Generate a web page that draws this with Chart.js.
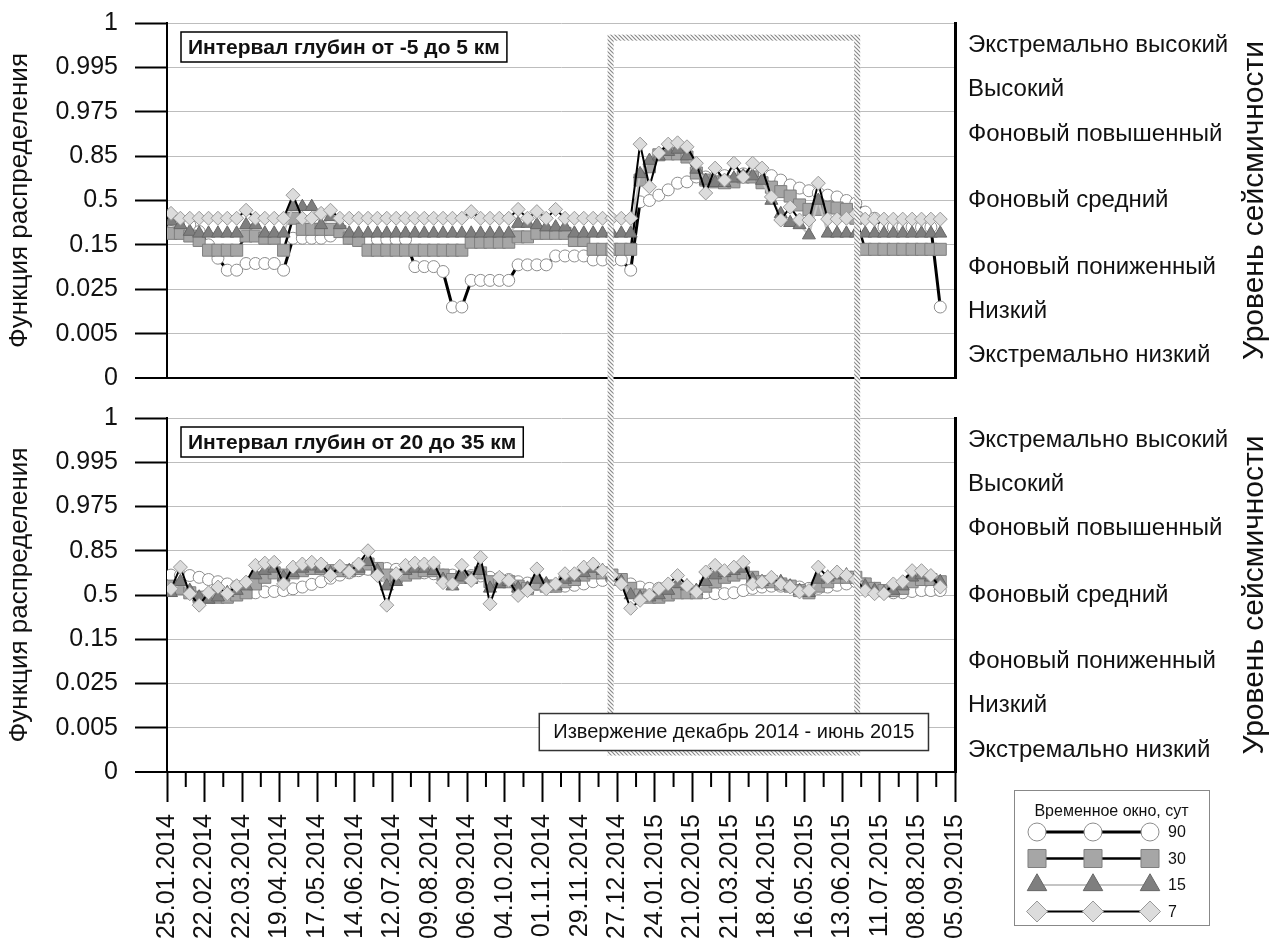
<!DOCTYPE html>
<html lang="ru">
<head>
<meta charset="UTF-8">
<meta name="viewport" content="width=device-width, initial-scale=1.0">
<title>Функция распределения по интервалам глубин</title>
<script src="https://cdn.jsdelivr.net/npm/chart.js"></script>
<style>
  body { margin: 0; background: #fff; }
  #page { position: relative; width: 1272px; height: 947px; }
  .panel { position: absolute; left: 0; width: 1272px; }
  #panel-top { top: 0; height: 396px; }
  #panel-bottom { top: 396px; height: 551px; }
</style>
</head>
<body>
<div id="page">
  <div class="panel" id="panel-top"><canvas id="chart-top"></canvas></div>
  <div class="panel" id="panel-bottom"><canvas id="chart-bottom"></canvas></div>
</div>
<script>
// ---- data ----
// y values are given in axis level units: 0 -> "0", 1 -> "0.005", ... 8 -> "1"
const probLabels = ['0', '0.005', '0.025', '0.15', '0.5', '0.85', '0.975', '0.995', '1'];
const levelNames = ['Экстремально низкий', 'Низкий', 'Фоновый пониженный', 'Фоновый средний',
                    'Фоновый повышенный', 'Высокий', 'Экстремально высокий'];
const levelPos = [0.5, 1.5, 2.5, 4, 5.5, 6.5, 7.5];
const windowLabels = ['90', '30', '15', '7'];

const axisStart = '25.01.2014';
const axisEnd = '05.09.2015';
const firstSample = '28.01.2014';          // weekly samples
const eruptionStart = '22.12.2014';
const eruptionEnd = '24.06.2015';
const eruptionText = 'Извержение декабрь 2014 - июнь 2015';

// depth -5 .. 5 km
const top90 = [3.3, 3.35, 3.45, 3.3, 3.0, 2.7, 2.43, 2.43, 2.58, 2.58,
  2.58, 2.58, 2.43, 3.15, 3.15, 3.15, 3.15, 3.2, 3.3, 3.15,
  3.1, 3.12, 3.12, 3.12, 3.12, 3.12, 2.51, 2.51, 2.51, 2.4,
  1.6, 1.6, 2.2, 2.2, 2.2, 2.2, 2.2, 2.55, 2.55, 2.55,
  2.55, 2.75, 2.75, 2.75, 2.75, 2.66, 2.66, 2.66, 2.66, 2.43,
  3.97, 4.0, 4.12, 4.24, 4.39, 4.42, 4.53, 4.53, 4.53, 4.56,
  4.6, 4.6, 4.6, 4.6, 4.56, 4.46, 4.35, 4.28, 4.22, 4.17,
  4.12, 4.08, 4.0, 3.94, 3.74, 3.6, 3.4, 3.4, 3.4, 3.4,
  3.4, 3.4, 1.6];
const top30 = [3.26, 3.26, 3.2, 3.1, 2.88, 2.88, 2.88, 2.88, 3.2, 3.2,
  3.15, 3.15, 2.88, 3.6, 3.35, 3.35, 3.35, 3.35, 3.3, 3.15,
  3.1, 2.88, 2.88, 2.88, 2.88, 2.88, 2.88, 2.88, 2.88, 2.88,
  2.88, 2.88, 3.06, 3.06, 3.06, 3.06, 3.06, 3.18, 3.18, 3.26,
  3.26, 3.26, 3.26, 3.1, 3.1, 2.9, 2.9, 2.9, 2.9, 2.9,
  4.46, 4.76, 5.03, 5.05, 5.05, 4.98, 4.62, 4.46, 4.42, 4.4,
  4.42, 4.53, 4.53, 4.4, 4.3, 4.2, 4.1, 3.9, 3.8, 3.8,
  3.85, 3.83, 3.8, 3.6, 2.9, 2.9, 2.9, 2.9, 2.9, 2.9,
  2.9, 2.9, 2.9];
const top15 = [3.53, 3.45, 3.3, 3.26, 3.26, 3.26, 3.26, 3.26, 3.45, 3.45,
  3.26, 3.26, 3.26, 3.86, 3.86, 3.86, 3.45, 3.63, 3.45, 3.26,
  3.26, 3.26, 3.26, 3.26, 3.26, 3.26, 3.26, 3.26, 3.26, 3.26,
  3.26, 3.26, 3.26, 3.26, 3.26, 3.26, 3.26, 3.48, 3.48, 3.45,
  3.4, 3.4, 3.4, 3.26, 3.26, 3.26, 3.26, 3.26, 3.26, 3.26,
  4.6, 4.9, 5.0, 5.1, 5.15, 5.0, 4.7, 4.45, 4.4, 4.4,
  4.5, 4.55, 4.55, 4.45, 4.0, 3.7, 3.5, 3.45, 3.22, 4.0,
  3.26, 3.26, 3.26, 3.26, 3.26, 3.26, 3.26, 3.26, 3.26, 3.26,
  3.26, 3.26, 3.26];
const top7 = [3.71, 3.6, 3.6, 3.6, 3.6, 3.6, 3.6, 3.6, 3.78, 3.6,
  3.6, 3.6, 3.6, 4.12, 3.6, 3.6, 3.71, 3.78, 3.6, 3.6,
  3.6, 3.6, 3.6, 3.6, 3.6, 3.6, 3.6, 3.6, 3.6, 3.6,
  3.6, 3.6, 3.75, 3.6, 3.6, 3.6, 3.6, 3.8, 3.6, 3.75,
  3.6, 3.8, 3.6, 3.6, 3.6, 3.6, 3.6, 3.6, 3.6, 3.6,
  5.27, 4.31, 5.07, 5.27, 5.3, 5.21, 4.84, 4.17, 4.73, 4.46,
  4.84, 4.53, 4.84, 4.73, 4.08, 3.56, 3.85, 3.56, 3.56, 4.39,
  3.58, 3.58, 3.6, 3.7, 3.58, 3.58, 3.58, 3.58, 3.58, 3.58,
  3.58, 3.58, 3.58];

// depth 20 .. 35 km
const bot90 = [4.45, 4.44, 4.44, 4.4, 4.35, 4.3, 4.25, 4.2, 4.12, 4.05,
  4.07, 4.08, 4.1, 4.14, 4.18, 4.24, 4.3, 4.38, 4.45, 4.5,
  4.55, 4.58, 4.6, 4.6, 4.58, 4.55, 4.53, 4.5, 4.48, 4.45,
  4.45, 4.44, 4.44, 4.43, 4.4, 4.38, 4.35, 4.3, 4.27, 4.24,
  4.22, 4.2, 4.2, 4.22, 4.25, 4.3, 4.33, 4.35, 4.33, 4.25,
  4.18, 4.15, 4.15, 4.15, 4.12, 4.1, 4.07, 4.05, 4.03, 4.03,
  4.05, 4.1, 4.15, 4.18, 4.2, 4.2, 4.2, 4.18, 4.15, 4.15,
  4.18, 4.22, 4.25, 4.3, 4.25, 4.15, 4.08, 4.05, 4.05, 4.08,
  4.1, 4.1, 4.1];
const bot30 = [4.2, 4.15, 4.05, 3.95, 3.95, 3.95, 3.95, 4.0, 4.05, 4.25,
  4.4, 4.5, 4.45, 4.5, 4.55, 4.6, 4.6, 4.55, 4.55, 4.55,
  4.6, 4.7, 4.6, 4.45, 4.4, 4.45, 4.5, 4.55, 4.55, 4.45,
  4.35, 4.4, 4.4, 4.5, 4.3, 4.3, 4.3, 4.2, 4.15, 4.25,
  4.2, 4.2, 4.3, 4.35, 4.45, 4.5, 4.5, 4.45, 4.35, 4.15,
  4.0, 3.95, 3.95, 4.0, 4.05, 4.05, 4.05, 4.2, 4.3, 4.4,
  4.45, 4.5, 4.4, 4.3, 4.3, 4.25, 4.2, 4.1, 4.05, 4.2,
  4.3, 4.4, 4.4, 4.4, 4.25, 4.15, 4.1, 4.1, 4.15, 4.3,
  4.35, 4.35, 4.3];
const bot15 = [4.05, 4.3, 4.1, 3.95, 3.9, 3.95, 4.05, 4.1, 4.2, 4.45,
  4.55, 4.6, 4.4, 4.5, 4.6, 4.65, 4.6, 4.5, 4.6, 4.55,
  4.6, 4.75, 4.55, 4.2, 4.3, 4.55, 4.6, 4.6, 4.55, 4.35,
  4.2, 4.4, 4.35, 4.55, 4.15, 4.25, 4.3, 4.15, 4.15, 4.35,
  4.25, 4.2, 4.35, 4.4, 4.5, 4.6, 4.55, 4.45, 4.3, 4.0,
  3.95, 3.95, 4.0, 4.1, 4.25, 4.2, 4.1, 4.3, 4.45, 4.5,
  4.55, 4.6, 4.35, 4.3, 4.35, 4.3, 4.2, 4.1, 4.05, 4.35,
  4.4, 4.45, 4.45, 4.4, 4.2, 4.1, 4.05, 4.1, 4.2, 4.4,
  4.45, 4.4, 4.3];
const bot7 = [4.14, 4.63, 4.03, 3.77, 4.05, 4.18, 4.03, 4.21, 4.29, 4.67,
  4.72, 4.74, 4.25, 4.63, 4.7, 4.74, 4.7, 4.44, 4.65, 4.52,
  4.7, 5.0, 4.44, 3.77, 4.48, 4.67, 4.72, 4.7, 4.72, 4.28,
  4.25, 4.67, 4.33, 4.85, 3.8, 4.4, 4.33, 3.99, 4.1, 4.59,
  4.14, 4.25, 4.48, 4.48, 4.63, 4.7, 4.55, 4.45, 4.25, 3.7,
  3.88, 4.0, 4.14, 4.25, 4.44, 4.21, 4.07, 4.52, 4.67, 4.55,
  4.63, 4.74, 4.25, 4.29, 4.4, 4.25, 4.18, 4.07, 4.1, 4.63,
  4.4, 4.52, 4.44, 4.35, 4.1, 4.03, 4.03, 4.25, 4.3, 4.55,
  4.55, 4.44, 4.18];

// level of the hatched eruption frame inside each panel
const eruptionTopLevel = 7.67;
const eruptionBottomLevel = 0.44;

// ---- helpers ----
Chart.defaults.font.family = "'Liberation Sans', Arial, sans-serif";
Chart.defaults.color = '#111';

const MS_DAY = 86400000;
const t0 = (() => { const [d, m, y] = axisStart.split('.').map(Number); return Date.UTC(y, m - 1, d); })();
const dayOf = s => { const [d, m, y] = s.split('.').map(Number); return (Date.UTC(y, m - 1, d) - t0) / MS_DAY; };
const fmtDay = v => {
  const t = new Date(t0 + v * MS_DAY);
  return String(t.getUTCDate()).padStart(2, '0') + '.' + String(t.getUTCMonth() + 1).padStart(2, '0') + '.' + t.getUTCFullYear();
};
const sampleDays = top90.map((_, i) => dayOf(firstSample) + 7 * i);

const styles = {
  '90': { borderColor: '#000', borderWidth: 3, pointStyle: 'circle', pointRadius: 6,
          pointBackgroundColor: '#fff', pointBorderColor: '#8c8c8c', order: 3 },
  '30': { borderColor: '#000', borderWidth: 2.5, pointStyle: 'rect', pointRadius: 8.5,
          pointBackgroundColor: '#a6a6a6', pointBorderColor: '#7f7f7f', order: 2 },
  '15': { borderColor: '#c4c4c4', borderWidth: 2, pointStyle: 'triangle', pointRadius: 7.5,
          pointBackgroundColor: '#7f7f7f', pointBorderColor: '#666', order: 1 },
  '7':  { borderColor: '#000', borderWidth: 2, pointStyle: 'rectRot', pointRadius: 7,
          pointBackgroundColor: '#dcdcdc', pointBorderColor: '#999', order: 0 }
};

// diagonal hatch for the eruption frame
const hatchTile = document.createElement('canvas');
hatchTile.width = 4; hatchTile.height = 4;
(() => {
  const g = hatchTile.getContext('2d');
  g.fillStyle = '#fff'; g.fillRect(0, 0, 4, 4);
  g.strokeStyle = '#8a8a8a'; g.lineWidth = 1.2;
  g.beginPath();
  g.moveTo(0, 0); g.lineTo(4, 4);
  g.moveTo(3, -1); g.lineTo(5, 1);
  g.moveTo(-1, 3); g.lineTo(1, 5);
  g.stroke();
})();

const PAGE_TOP_OF_BOTTOM = 396;

const decor = {
  id: 'decor',
  afterDatasetsDraw(chart, args, opts) {
    const { ctx, scales: { x, y } } = chart;
    const x0 = x.getPixelForValue(dayOf(eruptionStart));
    const x1 = x.getPixelForValue(dayOf(eruptionEnd));
    const y0 = opts.bottom ? -10 : y.getPixelForValue(eruptionTopLevel);
    const y1 = opts.bottom ? y.getPixelForValue(eruptionBottomLevel) : chart.height + 10;
    ctx.save();
    ctx.strokeStyle = ctx.createPattern(hatchTile, 'repeat');
    ctx.lineWidth = 6;
    ctx.strokeRect(x0, y0, x1 - x0, y1 - y0);
    ctx.restore();
  },
  afterDraw(chart, args, opts) {
    const { ctx, chartArea: a, scales: { x, y } } = chart;
    ctx.save();
    // panel caption
    ctx.font = "bold 21px 'Liberation Sans', Arial, sans-serif";
    const tw = ctx.measureText(opts.caption).width;
    const bx = a.left + 14, by = a.top + 9, bh = 30;
    ctx.fillStyle = '#fff';
    ctx.fillRect(bx, by, tw + 14, bh);
    ctx.strokeStyle = '#000'; ctx.lineWidth = 1.5;
    ctx.strokeRect(bx, by, tw + 14, bh);
    ctx.fillStyle = '#111'; ctx.textBaseline = 'middle'; ctx.textAlign = 'left';
    ctx.fillText(opts.caption, bx + 7, by + bh / 2 + 1);

    // right title
    ctx.save();
    ctx.translate(1255, (a.top + a.bottom) / 2);
    ctx.rotate(-Math.PI / 2);
    ctx.font = "30px 'Liberation Sans', Arial, sans-serif";
    ctx.textAlign = 'center';
    ctx.fillText('Уровень сейсмичности', 0, 0);
    ctx.restore();

    if (opts.bottom) {
      // minor ticks
      ctx.strokeStyle = '#000'; ctx.lineWidth = 2;
      x.ticks.forEach(t => {
        if (t.value % 28 !== 0) {
          const px = x.getPixelForValue(t.value);
          ctx.beginPath(); ctx.moveTo(px, a.bottom); ctx.lineTo(px, a.bottom + 15); ctx.stroke();
        }
      });

      // eruption label
      const cx = (x.getPixelForValue(dayOf(eruptionStart)) + x.getPixelForValue(dayOf(eruptionEnd))) / 2;
      const yb = y.getPixelForValue(eruptionBottomLevel) - 2;
      ctx.font = "20px 'Liberation Sans', Arial, sans-serif";
      const ew = ctx.measureText(eruptionText).width + 28;
      ctx.fillStyle = '#fff';
      ctx.fillRect(cx - ew / 2, yb - 37, ew, 37);
      ctx.strokeStyle = '#333'; ctx.lineWidth = 1.5;
      ctx.strokeRect(cx - ew / 2, yb - 37, ew, 37);
      ctx.fillStyle = '#111'; ctx.textAlign = 'center';
      ctx.fillText(eruptionText, cx, yb - 18);

      // legend
      const L = { x: 1014, y: 790 - PAGE_TOP_OF_BOTTOM, w: 195, h: 135 };
      ctx.strokeStyle = '#888'; ctx.lineWidth = 1;
      ctx.strokeRect(L.x + 0.5, L.y + 0.5, L.w, L.h);
      ctx.font = "16px 'Liberation Sans', Arial, sans-serif";
      ctx.fillStyle = '#111'; ctx.textAlign = 'center';
      ctx.fillText('Временное окно, сут', L.x + L.w / 2, L.y + 22);
      const mx = [1037, 1093, 1150];
      windowLabels.forEach((lab, k) => {
        const st = styles[lab];
        const ry = L.y + 42 + k * 26.5;
        ctx.strokeStyle = st.borderColor; ctx.lineWidth = st.borderWidth;
        ctx.beginPath(); ctx.moveTo(mx[0], ry); ctx.lineTo(mx[2], ry); ctx.stroke();
        mx.forEach(px => {
          ctx.fillStyle = st.pointBackgroundColor; ctx.strokeStyle = st.pointBorderColor; ctx.lineWidth = 1;
          Chart.helpers.drawPoint(ctx, { pointStyle: st.pointStyle, radius: st.pointRadius * 1.5, rotation: 0, borderWidth: 1 }, px, ry);
        });
        ctx.fillStyle = '#111'; ctx.textAlign = 'left';
        ctx.fillText(lab, 1168, ry + 1);
      });
    }
    ctx.restore();
  }
};

function makePanel(canvasId, caption, s90, s30, s15, s7, bottom) {
  const series = { '90': s90, '30': s30, '15': s15, '7': s7 };
  const datasets = windowLabels.map(lab => Object.assign({
    label: lab,
    data: series[lab].map((v, i) => ({ x: sampleDays[i], y: v })),
    pointBorderWidth: 1,
    pointHoverRadius: styles[lab].pointRadius,
    tension: 0
  }, styles[lab]));

  // keep the plot area fixed: tick labels may overhang it
  const noOverhang = s => { s.paddingTop = 0; s.paddingBottom = 0; };

  return new Chart(document.getElementById(canvasId), {
    type: 'line',
    data: { datasets },
    plugins: [decor],
    options: {
      responsive: true,
      maintainAspectRatio: false,
      animation: false,
      devicePixelRatio: 1,
      layout: { padding: { top: bottom ? 22 : 23, left: 0, right: 0, bottom: 0 } },
      plugins: {
        legend: { display: false },
        tooltip: { enabled: false },
        decor: { caption, bottom }
      },
      scales: {
        x: {
          type: 'linear',
          min: dayOf(axisStart),
          max: dayOf(axisEnd),
          afterFit: s => { s.height = bottom ? 175 : 18; s.paddingLeft = 0; s.paddingRight = 0; },
          ticks: {
            display: bottom,
            stepSize: 14,
            autoSkip: false,
            minRotation: 90,
            maxRotation: 90,
            padding: 12,
            font: { size: 25 },
            color: '#111',
            callback: v => (v % 28 === 0 ? fmtDay(v) : '')
          },
          grid: {
            drawOnChartArea: false,
            drawTicks: bottom,
            tickLength: 30,
            tickWidth: 2,
            tickColor: c => (c.tick && c.tick.value % 28 === 0 ? '#000' : 'rgba(0,0,0,0)')
          },
          border: { display: true, color: '#000', width: 2 }
        },
        y: {
          type: 'linear',
          position: 'left',
          min: 0,
          max: 8,
          afterFit: s => { s.width = 167; noOverhang(s); },
          afterBuildTicks: s => { s.ticks = probLabels.map((_, i) => ({ value: i })); },
          ticks: {
            padding: 17,
            font: { size: 25 },
            color: '#111',
            callback: (v, i) => probLabels[i]
          },
          grid: {
            color: c => (c.index === 0 ? '#000' : '#bdbdbd'),
            lineWidth: c => (c.index === 0 ? 2 : 1),
            tickLength: 32,
            tickWidth: 2,
            tickColor: '#000'
          },
          border: { display: true, color: '#000', width: 2 },
          title: {
            display: true,
            text: 'Функция распределения',
            font: { size: 26 },
            color: '#111',
            padding: { top: 4, bottom: 0 }
          }
        },
        yR: {
          type: 'linear',
          position: 'right',
          min: 0,
          max: 8,
          afterFit: s => { s.width = 317; noOverhang(s); },
          afterBuildTicks: s => { s.ticks = levelPos.map(v => ({ value: v })); },
          ticks: {
            padding: 13,
            font: { size: 24 },
            color: '#111',
            callback: (v, i) => levelNames[i]
          },
          grid: { display: false, drawTicks: false },
          border: { display: true, color: '#000', width: 3 }
        }
      }
    }
  });
}

makePanel('chart-top', 'Интервал глубин от -5 до 5 км', top90, top30, top15, top7, false);
makePanel('chart-bottom', 'Интервал глубин от 20 до 35 км', bot90, bot30, bot15, bot7, true);
</script>
</body>
</html>
